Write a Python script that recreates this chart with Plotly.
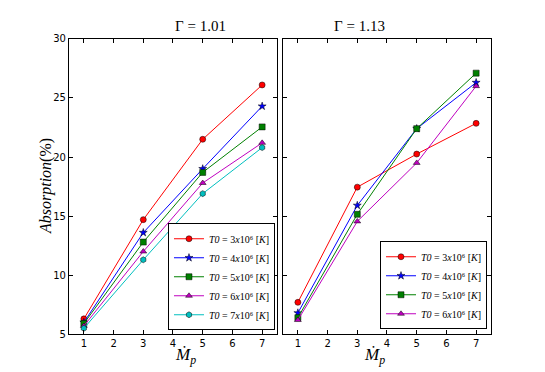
import plotly.graph_objects as go

# mass-loss rate values (x axis)
mdot = [1, 3, 5, 7]

# Gamma = 1.01 panel
g101_t3 = [6.3, 14.7, 21.5, 26.1]
g101_t4 = [6.0, 13.6, 19.0, 24.3]
g101_t5 = [5.9, 12.8, 18.7, 22.55]
g101_t6 = [5.7, 12.0, 17.8, 21.2]
g101_t7 = [5.5, 11.3, 16.9, 20.8]

# Gamma = 1.13 panel
g113_t3 = [7.7, 17.45, 20.25, 22.85]
g113_t4 = [6.8, 15.9, 22.4, 26.3]
g113_t5 = [6.4, 15.15, 22.4, 27.1]
g113_t6 = [6.2, 14.55, 19.5, 26.0]

temps = ["3", "4", "5", "6", "7"]
titles = ["Γ = 1.01", "Γ = 1.13"]

colors = ["#ff0000", "#0000ff", "#008000", "#bf00bf", "#00bfbf"]
symbols = ["circle", "star", "square", "triangle-up", "hexagon"]
msizes = [6, 6, 6, 6, 6]

serif = "Liberation Serif, DejaVu Serif, serif"
sans = "DejaVu Sans, sans-serif"

fig = go.Figure()


def lbl(t):
    return f"<i>T0</i> = {t}<i>x</i>10⁶ [<i>K</i>]"


for i, ys in enumerate([g101_t3, g101_t4, g101_t5, g101_t6, g101_t7]):
    fig.add_trace(go.Scatter(
        x=mdot, y=ys, mode="lines+markers", name=lbl(temps[i]),
        xaxis="x", yaxis="y",
        line=dict(color=colors[i], width=1),
        marker=dict(symbol=symbols[i], size=msizes[i], color=colors[i],
                    line=dict(color="black", width=0.5)),
        legend="legend"))

for i, ys in enumerate([g113_t3, g113_t4, g113_t5, g113_t6]):
    fig.add_trace(go.Scatter(
        x=mdot, y=ys, mode="lines+markers", name=lbl(temps[i]),
        xaxis="x2", yaxis="y2",
        line=dict(color=colors[i], width=1),
        marker=dict(symbol=symbols[i], size=msizes[i], color=colors[i],
                    line=dict(color="black", width=0.5)),
        legend="legend2"))

axis_common = dict(showline=True, linecolor="black", linewidth=1, mirror="ticks",
                   ticks="inside", ticklen=4, tickcolor="black", showgrid=False,
                   zeroline=False, tickfont=dict(family=sans, size=10, color="black"))

leg_common = dict(xanchor="right", yanchor="bottom",
                  bordercolor="black", borderwidth=1, bgcolor="white",
                  font=dict(family=serif, size=10, color="black"),
                  tracegroupgap=0, itemwidth=30)

ydom = [0.1105, 0.9309]

fig.update_layout(
    width=545, height=372,
    margin=dict(l=0, r=0, t=0, b=0),
    paper_bgcolor="white", plot_bgcolor="white",
    xaxis=dict(domain=[0.1119, 0.4936], anchor="y", range=[0.5, 7.5], dtick=1, **axis_common),
    xaxis2=dict(domain=[0.5046, 0.8862], anchor="y2", range=[0.5, 7.5], dtick=1, **axis_common),
    yaxis=dict(domain=ydom, anchor="x", range=[5, 30], dtick=5, **axis_common),
    yaxis2=dict(domain=ydom, anchor="x2", range=[5, 30], dtick=5,
                showticklabels=False, **axis_common),
    legend=dict(x=0.4899, y=0.1215, **leg_common),
    legend2=dict(x=0.8789, y=0.1243, **leg_common),
    showlegend=True,
)

for cx, t in zip([0.3028, 0.6954], titles):
    fig.add_annotation(x=cx, y=0.9669, xref="paper", yref="paper", yanchor="middle",
                       text=t, showarrow=False,
                       font=dict(family=serif, size=15, color="black"))
    fig.add_annotation(x=cx, y=0.0497, xref="paper", yref="paper", yanchor="middle",
                       text="<i>Ṁ</i><sub><i>p</i></sub>", showarrow=False,
                       font=dict(family=serif, size=17, color="black"))

fig.add_annotation(x=0.0697, y=0.5221, xref="paper", yref="paper",
                   xanchor="center", yanchor="middle",
                   text="<i>Absorption</i>(%)", textangle=-90, showarrow=False,
                   font=dict(family=serif, size=16, color="black"))

fig.write_html("out.html")
